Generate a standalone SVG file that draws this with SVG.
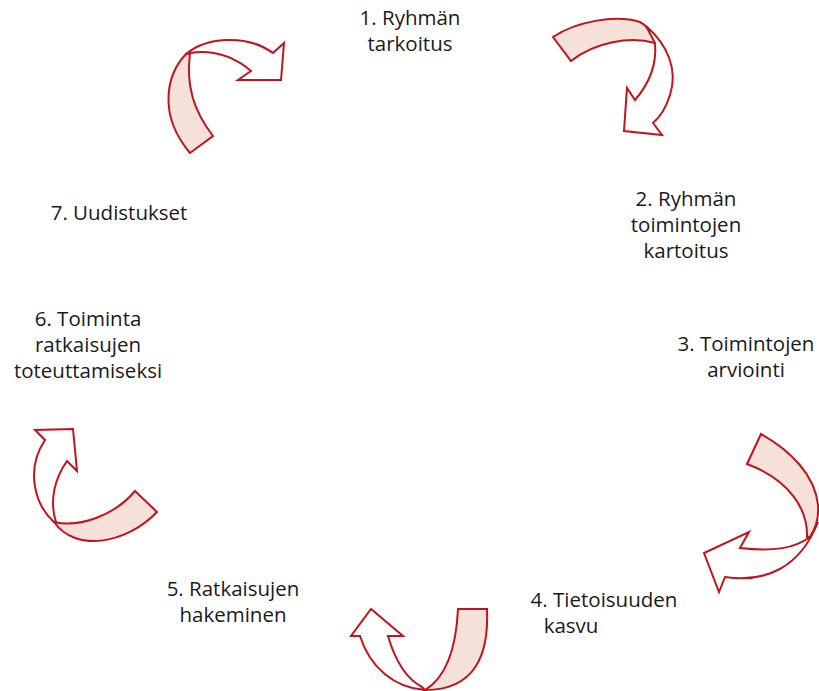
<svg xmlns="http://www.w3.org/2000/svg" width="819" height="691" viewBox="0 0 819 691">
<style>
.t{font-family:"Open Sans","Liberation Sans",sans-serif;font-size:20.5px;fill:#1a1a1a;text-anchor:middle}
.b{fill:#f6e1d8;stroke:#c0141e;stroke-width:2;stroke-linejoin:miter}
.w{fill:#ffffff;stroke:#c0141e;stroke-width:2;stroke-linejoin:miter}
</style>
<rect width="819" height="691" fill="#ffffff"/>
<g id="connectors">
<g id="arrow1">
<path class="b" d="M186,54 C166,75 158,115 190,153 L213,136 C193,110 186,85 190,53 Z"/>
<path class="w" d="M186,54 C205,38 245,33 273,53 L284,43 L281,80 L238,80 L251,71 C232,55 210,50 190,53 Z"/>
</g>
<g id="arrow2">
<path class="b" d="M553,37 C575,22 615,14 640,22 C648,26 652,32 655,43 C630,36 595,42 571,61 Z"/>
<path class="w" d="M646,26 C668,45 678,70 670,95 C666,108 660,117 653,123 L662,135 L624,131 L627,88 L635,100 C648,85 657,65 655,43 Z"/>
</g>
<g id="arrow3">
<path class="b" d="M761,434 C790,450 815,475 818,505 C819,518 816,528 810,537 L807,537 C808,510 790,480 747,464 Z"/>
<path class="w" d="M810,537 C795,548 775,552 740,548 L749,532 L704,553 L719,592 L725,577 C765,583 800,568 818,522 C816,528 813,533 810,537 Z"/>
</g>
<g id="arrow4">
<path class="b" d="M54,522 C80,528 115,515 135,491 L157,512 C125,545 75,552 54,522 Z"/>
<path class="w" d="M54,522 C35,505 25,470 45,440 L35,430 L73,429 L77,471 L67,461 C55,478 49,500 56,522 Z"/>
</g>
<g id="arrow5">
<path class="b" d="M458,609 L487,609 C489,655 475,690 425,690 C445,678 456,650 458,609 Z"/>
<path class="w" d="M425,690 C395,688 370,668 360,636 L351,636 L371,609 L403,636 L388,636 C395,660 405,678 422,687 Z"/>
</g>
</g>
<g id="node1"><text class="t" x="410" y="25">1. Ryhmän<tspan x="410" dy="26">tarkoitus</tspan></text></g>
<g id="node2"><text class="t" x="686" y="206">2. Ryhmän<tspan x="686" dy="26">toimintojen</tspan><tspan x="686" dy="26">kartoitus</tspan></text></g>
<g id="node3"><text class="t" x="746" y="351">3. Toimintojen<tspan x="746" dy="26">arviointi</tspan></text></g>
<g id="node4"><text class="t" x="604" y="607">4. Tietoisuuden<tspan x="571" dy="26">kasvu</tspan></text></g>
<g id="node5"><text class="t" x="233" y="596">5. Ratkaisujen<tspan x="233" dy="26">hakeminen</tspan></text></g>
<g id="node6"><text class="t" x="88" y="326">6. Toiminta<tspan x="88" dy="26">ratkaisujen</tspan><tspan x="88" dy="26">toteuttamiseksi</tspan></text></g>
<g id="node7"><text class="t" x="119" y="220">7. Uudistukset</text></g>
</svg>
